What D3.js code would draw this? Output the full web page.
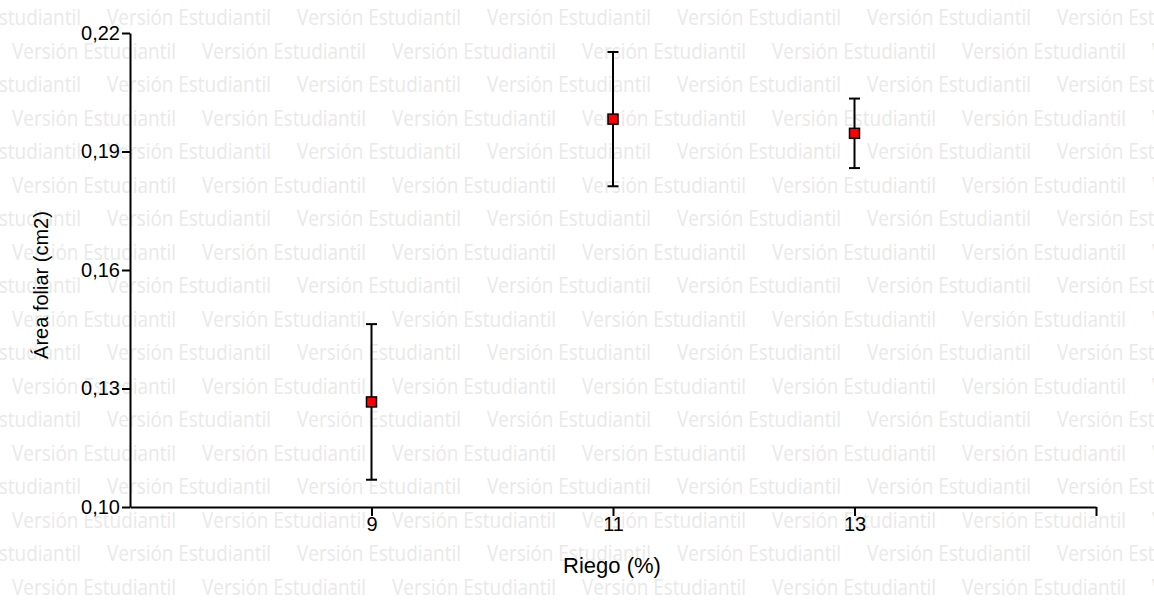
<!DOCTYPE html>
<html>
<head>
<meta charset="utf-8">
<script src="https://cdn.jsdelivr.net/npm/d3@7"></script>
<style>
  html, body { margin: 0; padding: 0; background: #fff; }
  svg { display: block; }
</style>
</head>
<body>
<svg id="chart" width="1154" height="600"></svg>
<script>
// ---- data ----
const riego = [9, 11, 13];
const areaMean = [0.1266, 0.1982, 0.1946];
const areaErr = [0.0197, 0.0170, 0.0088];
const yTicks = [0.10, 0.13, 0.16, 0.19, 0.22];
const xTicks = [9, 11, 13, 15];
const xTickLabels = ["9", "11", "13", ""];
const xTitle = "Riego (%)";
const yTitle = "Área foliar (cm2)";
const watermark = "Versión Estudiantil";

const W = 1154, H = 600;
const svg = d3.select("#chart");

// ---- watermark ----
const wm = svg.append("g").attr("class", "watermark");
for (let k = 0; k < 18; k++) {
  const y = 25 + 33.5 * k;
  const x0 = (k % 2 === 0) ? -83 : 12;
  for (let x = x0; x < W; x += 190) {
    wm.append("text")
      .attr("x", x).attr("y", y)
      .attr("font-family", "'Open Sans', 'Noto Sans', sans-serif")
      .attr("font-size", 22)
      .attr("textLength", 164)
      .attr("lengthAdjust", "spacingAndGlyphs")
      .attr("fill", "#e9e9e9")
      .text(watermark);
  }
}

// ---- scales ----
const x = d3.scaleLinear().domain([7, 15]).range([130, 1096]);
const y = d3.scaleLinear().domain([0.10, 0.22]).range([507, 33]);

const fmt = d => d3.format(".2f")(d).replace(".", ",");

// ---- axes ----
const yAxis = svg.append("g")
  .attr("transform", `translate(${x.range()[0]},0)`)
  .call(d3.axisLeft(y).tickValues(yTicks).tickFormat(fmt).tickSize(8).tickSizeOuter(0).tickPadding(2));

const xAxis = svg.append("g")
  .attr("transform", `translate(0,${y.range()[0]})`)
  .call(d3.axisBottom(x).tickValues(xTicks)
    .tickFormat((d, i) => xTickLabels[i]).tickSize(9).tickSizeOuter(0).tickPadding(1));

[yAxis, xAxis].forEach(g => {
  g.selectAll("path.domain").attr("stroke", "#000").attr("stroke-width", 2);
  g.selectAll(".tick line").attr("stroke", "#000").attr("stroke-width", 2);
  g.selectAll(".tick text")
    .attr("font-family", "'Liberation Sans', Arial, sans-serif")
    .attr("font-size", 20)
    .attr("fill", "#000");
});

// ---- titles ----
svg.append("text")
  .attr("x", 612).attr("y", 573)
  .attr("text-anchor", "middle")
  .attr("font-family", "'Liberation Sans', Arial, sans-serif")
  .attr("font-size", 22)
  .attr("fill", "#000")
  .text(xTitle);

svg.append("text")
  .attr("transform", "translate(48,285) rotate(-90)")
  .attr("text-anchor", "middle")
  .attr("font-family", "'Liberation Sans', Arial, sans-serif")
  .attr("font-size", 20)
  .attr("fill", "#000")
  .text(yTitle);

// ---- error bars & points ----
const data = riego.map((r, i) => ({ r, m: areaMean[i], e: areaErr[i] }));
const capW = 11;
const g = svg.append("g");
g.selectAll("line.err").data(data).enter().append("line")
  .attr("x1", d => x(d.r)).attr("x2", d => x(d.r))
  .attr("y1", d => y(d.m + d.e)).attr("y2", d => y(d.m - d.e))
  .attr("stroke", "#000").attr("stroke-width", 2);
g.selectAll("line.capT").data(data).enter().append("line")
  .attr("x1", d => x(d.r) - capW / 2).attr("x2", d => x(d.r) + capW / 2)
  .attr("y1", d => y(d.m + d.e)).attr("y2", d => y(d.m + d.e))
  .attr("stroke", "#000").attr("stroke-width", 2);
g.selectAll("line.capB").data(data).enter().append("line")
  .attr("x1", d => x(d.r) - capW / 2).attr("x2", d => x(d.r) + capW / 2)
  .attr("y1", d => y(d.m - d.e)).attr("y2", d => y(d.m - d.e))
  .attr("stroke", "#000").attr("stroke-width", 2);
const ms = 10;
g.selectAll("rect.pt").data(data).enter().append("rect")
  .attr("x", d => x(d.r) - ms / 2).attr("y", d => y(d.m) - ms / 2)
  .attr("width", ms).attr("height", ms)
  .attr("fill", "#ff0000").attr("stroke", "#000").attr("stroke-width", 1.5);
</script>
</body>
</html>
